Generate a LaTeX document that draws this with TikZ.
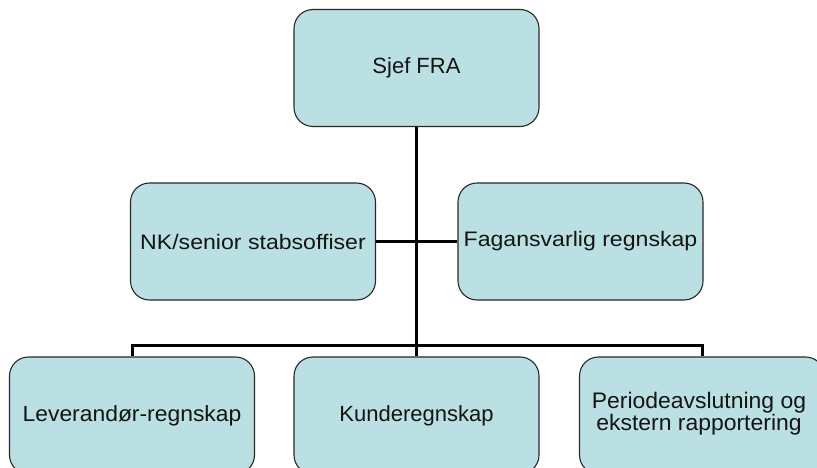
\documentclass[tikz,border=0pt]{standalone}
\usepackage{fontspec}
\setmainfont{Liberation Sans}
\definecolor{boxfill}{RGB}{187,224,227}
\definecolor{boxline}{RGB}{40,40,40}
\definecolor{txt}{RGB}{20,20,20}
\tikzset{
  orgbox/.style={draw=boxline, line width=1.1pt, fill=boxfill, rounded corners=19pt,
    minimum width=245pt, minimum height=117pt, inner sep=0pt, align=center,
    text=txt, font=\fontsize{22pt}{22pt}\selectfont},
  conn/.style={draw=black, line width=3pt, line join=miter}
}
\begin{document}
\begin{tikzpicture}[x=1pt,y=-1pt]
\useasboundingbox (0,0) rectangle (817,468);
\clip (0,0) rectangle (817,468);
\fill[white] (0,0) rectangle (817,468);
\coordinate (bus) at (416.5,345.5);
\node[orgbox] (top) at (416.5,68) {Sjef FRA};
\node[orgbox] (ml) at (253,241.5) {\fontsize{21pt}{22pt}\selectfont\scalebox{1.1}[1]{NK/senior stabsoffiser}};
\node[orgbox] (mr) at (580.5,241.5) {\fontsize{21pt}{22pt}\selectfont\scalebox{1.1}[1]{Fagansvarlig regnskap}};
\node[orgbox] (b1) at (132,415.5) {\scalebox{1.04}[1]{Leverandør-regnskap}};
\node[orgbox] (b2) at (416.5,415.5) {Kunderegnskap};
\node[orgbox] (b3) at (702,415.5) {};
\node[align=center, text=txt, font=\fontsize{22.5pt}{22pt}\selectfont, inner sep=0pt] (b3t) at (699,414) {\scalebox{1.02}[1]{Periodeavslutning og}\\\scalebox{1.02}[1]{ekstern rapportering}};
\draw[conn] (top.south) -- (bus);
\draw[conn] (ml.east) -- (mr.west);
\draw[conn] (b1.north) |- (bus) -| (b3.north);
\draw[conn] (bus) -- (b2.north);
\end{tikzpicture}
\end{document}
